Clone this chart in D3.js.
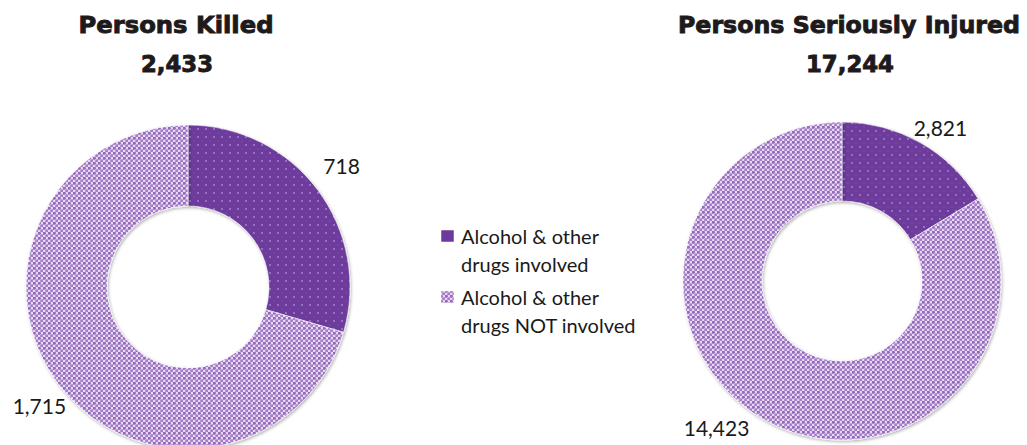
<!DOCTYPE html>
<html>
<head>
<meta charset="utf-8">
<script src="https://cdn.jsdelivr.net/npm/d3@7/dist/d3.min.js"></script>
<style>
html,body{margin:0;padding:0;background:#fff;}
svg{display:block;}
</style>
</head>
<body>
<svg id="chart" width="1027" height="445"></svg>
<script>
// ---- data ----
const categories = ["Alcohol & other drugs involved", "Alcohol & other drugs NOT involved"];
const legendLines = [["Alcohol & other", "drugs involved"], ["Alcohol & other", "drugs NOT involved"]];
const chartTitles = ["Persons Killed", "Persons Seriously Injured"];
const chartTotals = ["2,433", "17,244"];
const killedValues = [718, 1715];
const injuredValues = [2821, 14423];
const seriesValues = [killedValues, injuredValues];

// ---- layout ----
const layout = [
  {cx: 188, cy: 287, r: 162, ri: 81, titleX: 176, titleW: 195, totalW: 72, labelR: 192, labelAdj: [[0,-6],[5,3]]},
  {cx: 842, cy: 281, r: 159, ri: 80, titleX: 849, titleW: 342, totalW: 88, labelR: 186, labelAdj: [[7,8],[-34,-15]]}
];

const svg = d3.select("#chart");
const defs = svg.append("defs");

// dark pattern: purple with small light dots
const p1 = defs.append("pattern").attr("id","patDark").attr("patternUnits","userSpaceOnUse")
  .attr("width",8).attr("height",8);
p1.append("rect").attr("width",8).attr("height",8).attr("fill","#6c3a9c");
p1.append("circle").attr("cx",2).attr("cy",2).attr("r",0.9).attr("fill","#a88cc8");
p1.append("circle").attr("cx",6).attr("cy",6).attr("r",0.6).attr("fill","#8f6cb6");

// light pattern: dense purple dots on pale lavender
const p2 = defs.append("pattern").attr("id","patLight").attr("patternUnits","userSpaceOnUse")
  .attr("width",5).attr("height",5);
p2.append("rect").attr("width",5).attr("height",5).attr("fill","#e6d9f0");
p2.append("circle").attr("cx",1.25).attr("cy",1.25).attr("r",1.6).attr("fill","#9367bd");
p2.append("circle").attr("cx",3.75).attr("cy",3.75).attr("r",1.6).attr("fill","#a47fc8");

const fills = ["url(#patDark)", "url(#patLight)"];
const legendFills = ["#6c3a9c", "url(#patLight)"];

const flt = defs.append("filter").attr("id","shadow").attr("x","-10%").attr("y","-10%").attr("width","120%").attr("height","120%");
flt.append("feDropShadow").attr("dx",1).attr("dy",1.5).attr("stdDeviation",1.5).attr("flood-color","#000").attr("flood-opacity",0.3);

const pie = d3.pie().sort(null).value(d => d);

seriesValues.forEach((vals, i) => {
  const L = layout[i];
  const g = svg.append("g").attr("transform", `translate(${L.cx},${L.cy})`);
  const arc = d3.arc().innerRadius(L.ri).outerRadius(L.r);
  const labelArc = d3.arc().innerRadius(L.labelR).outerRadius(L.labelR);
  const arcs = pie(vals);
  g.selectAll("path.slice").data(arcs).enter().append("path")
    .attr("class","slice")
    .attr("d", arc)
    .attr("fill", (d, j) => fills[j])
    .attr("stroke", "#ffffff")
    .attr("stroke-width", 0.6)
    .attr("filter", "url(#shadow)");
  g.selectAll("text.lbl").data(arcs).enter().append("text")
    .attr("class","lbl")
    .attr("x", (d, j) => labelArc.centroid(d)[0] + L.labelAdj[j][0])
    .attr("y", (d, j) => labelArc.centroid(d)[1] + L.labelAdj[j][1])
    .attr("text-anchor","middle")
    .attr("dominant-baseline","central")
    .attr("font-family","Lato, 'Open Sans', sans-serif")
    .attr("font-size", 21)
    .attr("fill","#1a1a1a")
    .text(d => d3.format(",")(d.data));

  svg.append("text")
    .attr("x", L.titleX).attr("y", 33)
    .attr("text-anchor","middle")
    .attr("font-family","'DejaVu Sans', Lato, sans-serif")
    .attr("font-weight","900")
    .attr("font-size", 23)
    .attr("fill","#1e1a1c")
    .attr("stroke","#1e1a1c").attr("stroke-width",0.9)
    .attr("textLength", L.titleW).attr("lengthAdjust","spacingAndGlyphs")
    .text(chartTitles[i]);
  svg.append("text")
    .attr("x", L.titleX + 1).attr("y", 72)
    .attr("text-anchor","middle")
    .attr("font-family","'DejaVu Sans', Lato, sans-serif")
    .attr("font-weight","900")
    .attr("font-size", 23)
    .attr("fill","#1e1a1c")
    .attr("stroke","#1e1a1c").attr("stroke-width",0.9)
    .attr("textLength", L.totalW).attr("lengthAdjust","spacingAndGlyphs")
    .text(chartTotals[i]);
});

// legend
const leg = svg.append("g");
const legendY = [236, 297];
categories.forEach((c, k) => {
  const y0 = legendY[k];
  leg.append("rect").attr("x", 441).attr("y", y0 - 6).attr("width", 13).attr("height", 12)
    .attr("fill", legendFills[k]).attr("stroke","#ffffff").attr("stroke-width",0.5);
  legendLines[k].forEach((t, m) => {
    leg.append("text")
      .attr("x", 461).attr("y", y0 + m * 28)
      .attr("dominant-baseline","central")
      .attr("font-family","Lato, 'Open Sans', sans-serif")
      .attr("font-size", 20)
      .attr("fill","#1a1a1a")
      .text(t);
  });
});
</script>
</body>
</html>
